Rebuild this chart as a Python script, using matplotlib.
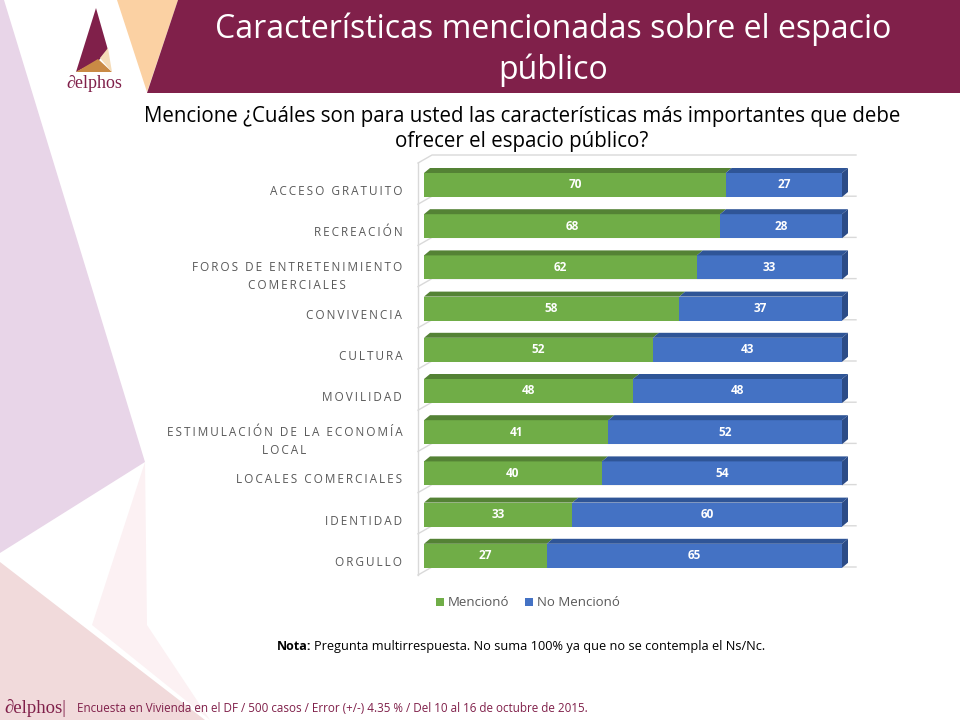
import matplotlib
matplotlib.use("Agg")
import matplotlib.pyplot as plt
from matplotlib.patches import Polygon
import numpy as np

# data
categories = ["ACCESO GRATUITO", "RECREACIÓN", "FOROS DE ENTRETENIMIENTO\nCOMERCIALES",
              "CONVIVENCIA", "CULTURA", "MOVILIDAD", "ESTIMULACIÓN DE LA ECONOMÍA\nLOCAL",
              "LOCALES COMERCIALES", "IDENTIDAD", "ORGULLO"]
menciono = [70, 68, 62, 58, 52, 48, 41, 40, 33, 27]
no_menciono = [27, 28, 33, 37, 43, 48, 52, 54, 60, 65]
series_names = ["Mencionó", "No Mencionó"]

title = "Características mencionadas sobre el espacio\npúblico"
question = ("Mencione ¿Cuáles son para usted las características más importantes que debe\n"
            "ofrecer el espacio público?")
nota_bold = "Nota:"
nota_rest = "Pregunta multirrespuesta. No suma 100% ya que no se contempla el Ns/Nc."
footer = "Encuesta en Vivienda en el DF / 500 casos / Error (+/-) 4.35 % / Del 10 al 16 de octubre de 2015."

MAROON = "#80204a"
GREEN, GREEN_TOP = "#70ad47", "#548235"
BLUE, BLUE_TOP, BLUE_SIDE = "#4472c4", "#2f5597", "#2c4c87"
GREY = "#595959"
FONT = ["Open Sans", "DejaVu Sans"]
NARROW = ["Liberation Sans Narrow", "Open Sans", "DejaVu Sans"]

fig = plt.figure(figsize=(9.6, 7.2), dpi=100)

# background decoration (pixel coordinates)
bg = fig.add_axes([0, 0, 1, 1])
bg.set_xlim(0, 960)
bg.set_ylim(720, 0)
bg.axis("off")
bg.add_patch(Polygon([(0, 0), (4, 0), (145, 462), (0, 553)], color="#e8d5e8", lw=0))
bg.add_patch(Polygon([(145, 462), (92, 625), (210, 720), (147, 625)], color="#fcf1f3", lw=0))
bg.add_patch(Polygon([(0, 562), (205, 720), (0, 720)], color="#f1dadb", lw=0))
bg.add_patch(Polygon([(117, 0), (178, 0), (147, 92)], color="#fbd1a3", lw=0))
bg.add_patch(Polygon([(178, 0), (960, 0), (960, 93), (147, 93)], color=MAROON, lw=0))
# logo
bg.add_patch(Polygon([(96, 8), (76, 72), (99, 60), (108, 50)], color=MAROON, lw=0))
bg.add_patch(Polygon([(76, 72), (112, 72), (98, 59)], color="#c98a45", lw=0))
bg.add_patch(Polygon([(100, 58), (112, 72), (108, 48)], color="#f5dcb8", lw=0))
bg.text(94, 84, "∂elphos", ha="center", va="center", fontsize=13, color=MAROON,
        family=["Liberation Serif", "DejaVu Serif"])

bg.text(553, 50, title, ha="center", va="center", fontsize=23, color="white",
        family=NARROW, linespacing=1.3)
bg.text(522, 129, question, ha="center", va="center", fontsize=14.8, color="black",
        family=FONT, linespacing=1.2)
bg.text(311, 650, nota_bold, ha="right", va="baseline", fontsize=9, fontweight="bold",
        family=FONT, color="black")
bg.text(314, 650, nota_rest, ha="left", va="baseline", fontsize=9.2, family=FONT, color="black")
bg.text(4, 708, "∂elphos|", ha="left", va="center", fontsize=13.5, color=MAROON,
        family=["Liberation Serif", "DejaVu Serif"])
bg.text(77, 708, footer, ha="left", va="center", fontsize=8.4, color=MAROON, family=FONT)

# chart axes: x 0 -> 424px, 100 -> 842px ; row centres 185px + 41.2px*i
px_x = 4.18
px_y = 41.2
ax_l, ax_r, ax_t, ax_b = 405, 870, 150, 590
ax = fig.add_axes([ax_l / 960, 1 - ax_b / 720, (ax_r - ax_l) / 960, (ax_b - ax_t) / 720])
ax.set_xlim((ax_l - 424) / px_x, (ax_r - 424) / px_x)
ax.set_ylim((ax_b - 185) / px_y, (ax_t - 185) / px_y)
ax.patch.set_alpha(0)
for s in ax.spines.values():
    s.set_visible(False)
ax.set_xticks([])

m = np.array(menciono, float)
n = np.array(no_menciono, float)
tot = m + n
share_m = m / tot * 100
share_n = n / tot * 100
y = np.arange(len(categories))
h = 24 / px_y
dx = 6 / px_x
dy = -5 / px_y

# back wall grid lines
gc = "#d9d9d9"
for k in range(len(categories) + 1):
    yb = k - 30 / px_y
    ax.plot([-6 / px_x, 8 / px_x, 432 / px_x], [yb + 8 / px_y, yb, yb], color=gc, lw=1, zorder=1)
ax.plot([-6 / px_x, -6 / px_x], [-30 / px_y + 8 / px_y, len(categories) - 30 / px_y + 8 / px_y],
        color=gc, lw=1, zorder=1)

b1 = ax.barh(y, share_m, height=h, color=GREEN, label=series_names[0], zorder=3)
b2 = ax.barh(y, share_n, left=share_m, height=h, color=BLUE, label=series_names[1], zorder=3)

for i in range(len(categories)):
    top = y[i] - h / 2
    bot = y[i] + h / 2
    for left, w, c in [(0, share_m[i], GREEN_TOP), (share_m[i], share_n[i], BLUE_TOP)]:
        ax.add_patch(Polygon([(left, top), (left + w, top), (left + w + dx, top + dy), (left + dx, top + dy)],
                             color=c, lw=0, zorder=3))
    r = share_m[i] + share_n[i]
    ax.add_patch(Polygon([(r, top), (r + dx, top + dy), (r + dx, bot + dy), (r, bot)],
                         color=BLUE_SIDE, lw=0, zorder=3))

ax.bar_label(b1, labels=[str(v) for v in menciono], label_type="center", color="white",
             fontsize=8.5, fontweight="bold", family=FONT)
ax.bar_label(b2, labels=[str(v) for v in no_menciono], label_type="center", color="white",
             fontsize=8.5, fontweight="bold", family=FONT)


def spaced(s):
    return "\n".join("\u2009".join(line) for line in s.split("\n"))


ax.set_yticks(y + 5 / px_y, [spaced(c) for c in categories])
ax.tick_params(axis="y", length=0, pad=2, labelsize=8.5, labelcolor=GREY)
for lbl in ax.get_yticklabels():
    lbl.set_family(FONT)
    lbl.set_multialignment("center")
    lbl.set_linespacing(1.5)

fig.legend(handles=[b1, b2], labels=series_names, loc="center", bbox_to_anchor=(528 / 960, 1 - 603 / 720),
           ncol=2, frameon=False, fontsize=9.5, labelcolor=GREY, handlelength=0.6, handleheight=0.6,
           handletextpad=0.3, columnspacing=1.2, prop={"family": FONT, "size": 9.5})

fig.savefig("out.png", dpi=100)
